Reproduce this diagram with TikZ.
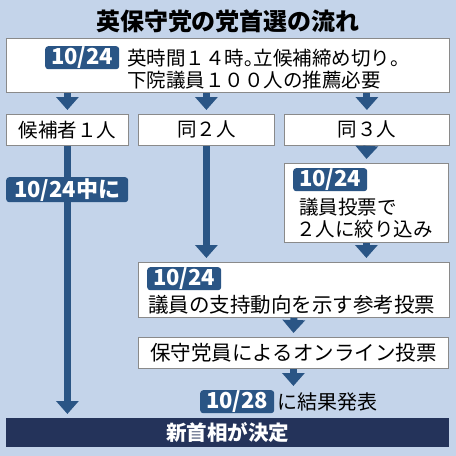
\documentclass[tikz,border=0pt]{standalone}
\usepackage{fontspec}
\setmainfont{Noto Sans CJK JP}
\usepackage{xcolor}
\usepackage{tikz}
\usetikzlibrary{arrows.meta,positioning}
\definecolor{bgblue}{HTML}{C4D4EA}
\definecolor{dateblue}{HTML}{2A5585}
\definecolor{navy}{HTML}{24335A}
\definecolor{boxgray}{HTML}{8A8A8A}
\newcommand{\jpsize}[1]{\fontsize{#1}{22}\selectfont}

\begin{document}
\begin{tikzpicture}[
  x=1pt, y=-1pt,
  box/.style={draw=boxgray, fill=white, line width=0.8pt, inner sep=0pt,
              anchor=north west, font=\jpsize{19.5}},
  badge/.style={fill=dateblue, text=white, rounded corners=3pt, inner sep=0pt,
                anchor=north west, minimum height=23pt, minimum width=74pt,
                font=\bfseries\jpsize{22}},
  lines/.style={anchor=west, align=left, inner sep=0pt, font=\jpsize{19.5}},
  arr/.style={-{Triangle[width=22pt,length=13pt]}, line width=7pt, dateblue,
              shorten >=4pt}
]
\fill[bgblue] (0,0) rectangle (456,456);
\useasboundingbox (0,0) rectangle (456,456);

\node[font=\bfseries\jpsize{24}] (title) at (228,21) {英保守党の党首選の流れ};

% nomination deadline
\node[box, minimum width=443pt, minimum height=54pt] (deadline) at (6,38) {};
\node[badge] (d1) at (45,46) {10/24};
\node[lines] (deadtxt) at (127,69) {英時間１４時｡立候補締め切り。\\下院議員１００人の推薦必要};

% number of candidates
\node[box, minimum width=122pt, minimum height=31pt] (one) at (6,114) {候補者１人};
\node[box, minimum width=136pt, minimum height=31pt] (two) at (138,114) {同２人};
\node[box, minimum width=165pt, minimum height=31pt] (three) at (284,114) {同３人};

% MPs narrow down to two
\node[box, minimum width=164pt, minimum height=79pt] (narrow) at (284,163) {};
\node[badge] (d2) at (293,168) {10/24};
\node[lines] (narrowtxt) at (299,218.5) {議員投票で\\\hspace{-3pt}２人に絞り込み};

% indicative vote
\node[box, minimum width=311pt, minimum height=55pt] (indic) at (138,262) {};
\node[badge] (d3) at (147,267) {10/24};
\node[lines, font=\jpsize{20.5}] (indictxt) at (148,305) {議員の支持動向を示す参考投票};

% members' online vote
\node[box, minimum width=310pt, minimum height=31pt, font=\jpsize{20.5}] (online) at (138,337) {保守党員によるオンライン投票};

% result
\node[badge] (d4) at (200,390) {10/28};
\node[lines, font=\jpsize{20}, right=3pt of d4] (result) {に結果発表};

\node[anchor=north west, fill=navy, text=white, inner sep=0pt,
      minimum width=443pt, minimum height=29pt, font=\bfseries\jpsize{20.5}]
  (pm) at (6,418) {新首相が決定};

\draw[arr] (one |- deadline.south) -- (one.north);
\draw[arr] (two |- deadline.south) -- (two.north);
\draw[arr] (three |- deadline.south) -- (three.north);
\draw[arr] (one.south) -- (one |- pm.north);
\draw[arr] (two.south) -- (two |- indic.north);
\draw[arr] (three.south) -- (narrow.north);
\draw[arr] (narrow.south) -- (narrow |- indic.north);
\draw[arr] (indic.south) -- (online.north);
\draw[arr] (online.south) -- (online.south |- d4.north);

\node[badge, minimum width=122pt, minimum height=25pt] (sameday) at (6,177) {10/24中に};
\end{tikzpicture}
\end{document}
